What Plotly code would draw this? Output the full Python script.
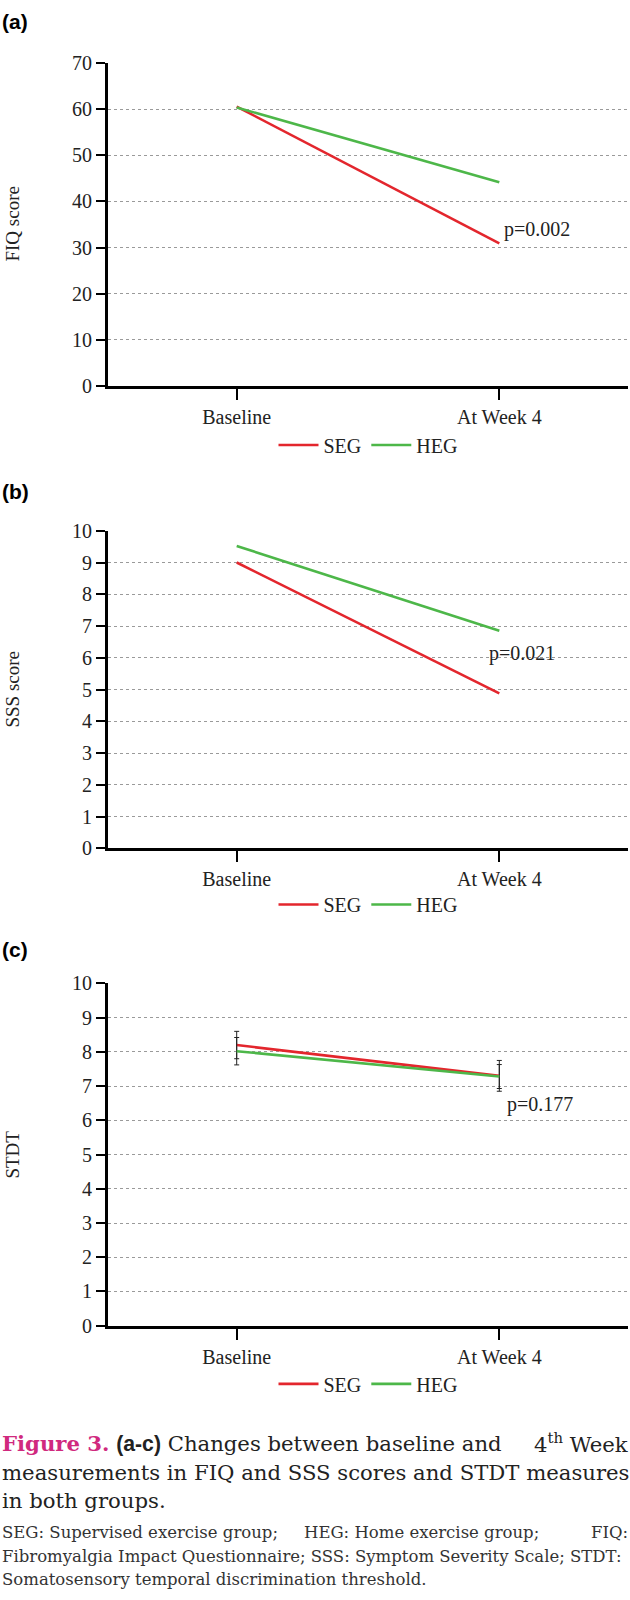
import plotly.graph_objects as go

W, H = 630, 1600

timepoints = ["Baseline", "At Week 4"]
groups = ["SEG", "HEG"]

fiq_seg = [60.6, 30.9]
fiq_heg = [60.4, 44.2]
sss_seg = [9.0, 4.88]
sss_heg = [9.52, 6.85]
stdt_seg = [8.2, 7.3]
stdt_heg = [8.02, 7.28]
stdt_seg_err = [0.4, 0.45]
stdt_heg_err = [0.4, 0.35]

p_values = ["p=0.002", "p=0.021", "p=0.177"]
panel_labels = ["(a)", "(b)", "(c)"]
y_titles = ["FIQ score", "SSS score", "STDT"]
y_max = [70, 10, 10]
y_step = [10, 1, 1]

colors = {"SEG": "#E3262D", "HEG": "#4DB749"}
serif = "Liberation Serif"


def px(x, y):
    # pixel position on the page -> paper coords
    return x / W, 1 - y / H


# pixel layout of each panel
panels = [
    dict(y0=380, y1=53, lab=11, leg=440, px_=502, py=222),
    dict(y0=849, y1=527, lab=487, leg=906, px_=487, py=651),
    dict(y0=1333, y1=986, lab=952, leg=1392, px_=505, py=1109),
]
x_left, x_right = 108, 628

series = [
    (fiq_seg, fiq_heg, None, None),
    (sss_seg, sss_heg, None, None),
    (stdt_seg, stdt_heg, stdt_seg_err, stdt_heg_err),
]

fig = go.Figure()
annotations = []


def note(text, x, y, **kw):
    d = dict(text=text, x=x, y=y, xref="paper", yref="paper", showarrow=False,
             xanchor="left", yanchor="middle")
    d.update(kw)
    annotations.append(d)


for i, (seg, heg, seg_err, heg_err) in enumerate(series):
    n = "" if i == 0 else str(i + 1)
    leg = "legend" + n
    for name, vals, err in [("SEG", seg, seg_err), ("HEG", heg, heg_err)]:
        fig.add_trace(go.Scatter(
            x=timepoints, y=vals, name=name, mode="lines",
            line=dict(color=colors[name], width=2.6),
            error_y=dict(type="data", array=err, color="#222", thickness=1, width=2.5,
                         visible=err is not None),
            xaxis="x" + n, yaxis="y" + n, legend=leg,
        ))

    p = panels[i]
    _, ytop = px(0, p["y1"])
    _, ybot = px(0, p["y0"])
    fig.update_layout({
        "xaxis" + n: dict(
            domain=[x_left / W, x_right / W], anchor="y" + n, type="category",
            categoryorder="array", categoryarray=timepoints, range=[-0.49, 1.49],
            showgrid=False, showline=True, linecolor="black", linewidth=2.8,
            ticks="outside", ticklen=11, tickwidth=2.4, tickcolor="black",
            tickfont=dict(family=serif, size=20, color="#222"),
        ),
        "yaxis" + n: dict(
            domain=[ybot, ytop], anchor="x" + n, range=[0, y_max[i]], dtick=y_step[i],
            showgrid=True, gridcolor="#9a9a9a", griddash="dot", gridwidth=1,
            zeroline=False, showline=True, linecolor="black", linewidth=2.8,
            ticks="outside", ticklen=9, tickwidth=2.4, tickcolor="black",
            tickfont=dict(family=serif, size=20, color="#222"),
        ),
        leg: dict(
            orientation="h", x=(x_left + x_right) / 2 / W, xanchor="center",
            y=px(0, p["leg"])[1], yanchor="middle",
            font=dict(family=serif, size=20, color="#222"),
            bgcolor="rgba(0,0,0,0)", itemwidth=40, tracegroupgap=0,
        ),
    })

    note("<b>" + panel_labels[i] + "</b>", 0, px(0, p["lab"])[1],
         font=dict(family="Liberation Sans", size=21, color="black"))
    note(y_titles[i], px(13, 0)[0], px(0, (p["y0"] + p["y1"]) / 2)[1], textangle=-90,
         xanchor="center", font=dict(family=serif, size=19, color="#222"))
    ax, ay = px(p["px_"], p["py"])
    note(p_values[i], ax, ay, font=dict(family=serif, size=20, color="#222"))

# caption, roughly justified like the journal layout: (text, x px, y px, anchor, font)
cap_font = dict(family="DejaVu Serif", size=21.2, color="#222")
small_font = dict(family="DejaVu Serif", size=16.5, color="#333")
caption = [
    ("<b><span style='color:#D0297E'>Figure 3.</span></b> "
     "<span style='font-family:Liberation Sans'><b>(a-c)</b></span> "
     "Changes between baseline and", 0, 1452, "left", cap_font),
    ("4<sup>th</sup> Week", 630, 1452, "right", cap_font),
    ("measurements in FIQ and SSS scores and STDT measures", 0, 1482, "left", cap_font),
    ("in both groups.", 0, 1510, "left", cap_font),
    ("SEG: Supervised exercise group;", 0, 1543, "left", small_font),
    ("HEG: Home exercise group;", 302, 1543, "left", small_font),
    ("FIQ:", 630, 1543, "right", small_font),
    ("Fibromyalgia Impact Questionnaire; SSS: Symptom Severity Scale; STDT:", 0, 1567, "left",
     small_font),
    ("Somatosensory temporal discrimination threshold.", 0, 1590, "left", small_font),
]
for text, xpix, ypix, anchor, f in caption:
    note(text, px(xpix, 0)[0], px(0, ypix)[1], xanchor=anchor, font=f)

fig.update_layout(
    width=W, height=H, margin=dict(l=0, r=0, t=0, b=0),
    paper_bgcolor="white", plot_bgcolor="white",
    showlegend=True, annotations=annotations,
)
fig.write_html(
    "out.html",
    config={"displayModeBar": False},
    post_script="document.body.style.margin='0px';"
                "document.documentElement.style.overflow='hidden';",
)
